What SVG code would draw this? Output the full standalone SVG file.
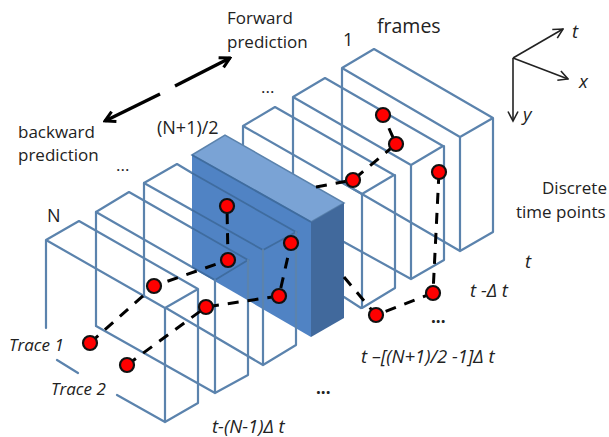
<svg xmlns="http://www.w3.org/2000/svg" width="609" height="437" viewBox="0 0 609 437">
<style>
.w{fill:none;stroke:#5b83ad;stroke-width:2.2;stroke-linejoin:round;stroke-linecap:round}
.d{fill:none;stroke:#3f6c9f;stroke-width:1.8}
.tr{fill:none;stroke:#000;stroke-width:3;stroke-dasharray:11 9}
.c{fill:#f00;stroke:#111;stroke-width:2.2}
text{font-family:"Open Sans","Liberation Sans",sans-serif;fill:#222;font-size:17px}
.i{font-style:italic;font-size:18.5px}
.tc{font-style:italic;font-size:17px}
.ar{fill:none;stroke:#000;stroke-width:3.4}
.ax{fill:none;stroke:#222;stroke-width:1.6}
</style>
<defs>
<marker id="h" viewBox="0 0 14 14" refX="12" refY="7" markerWidth="14" markerHeight="14" markerUnits="userSpaceOnUse" orient="auto"><path d="M2 1.5 L12 7 L2 12.5" fill="none" stroke="#000" stroke-width="3"/></marker>
<marker id="a" viewBox="0 0 12 12" refX="10.5" refY="6" markerWidth="12" markerHeight="12" markerUnits="userSpaceOnUse" orient="auto"><path d="M1 1 L10.5 6 L1 11" fill="none" stroke="#222" stroke-width="1.6"/></marker>
</defs>
<rect width="609" height="437" fill="#fff"/>

<g id="frame-1"><path class="w" d="M342 181V68L374 49L493 118L460 137L342 68M460 137V251L493 232V118M343 183L460 251"/></g>
<g id="frame-2"><path class="w" d="M293 174V97L325 78L443 146L411 165L293 97M411 165V279L444 260V146M344 242L411 279"/></g>
<g id="frame-3"><path class="w" d="M243 145V126L275 107L394 175L362 194L243 126M362 194V308L395 288V175M344 297L361 308"/></g>

<g id="frame-middle">
<path d="M192 155L225 135L344 203L311 222Z" fill="#7aa3d5" stroke="#5b83ad" stroke-width="1.5"/>
<path d="M192 155L311 222V337L192 268Z" fill="#5083c4"/>
<path d="M311 222L344 203V318L311 337Z" fill="#41699c"/>
<path class="d" d="M192 155L311 222"/>
</g>

<g id="frame-4"><path class="w" d="M144 297V183L177 164L192 173"/><path class="w" d="M144 183L192 210"/><path class="d" d="M192 210L263 250L296 232L192 173"/><path class="w" d="M263 250V365L296 345V232M166 308L263 365"/></g>
<g id="frame-5"><path class="w" d="M96 326V212L129 192L192 228"/><path class="w" d="M96 212L192 267"/><path class="d" d="M192 228L248 260L215 280L192 267"/><path class="w" d="M215 280V393L248 375V260M96 326L215 393"/></g>
<g id="frame-6"><path class="w" d="M46 328V240L79 221L198 289L165 308L46 240M165 308V422L198 403V289M57 360L78 373M117 395L165 422"/></g>

<g id="connectors">
<path class="tr" d="M90 343L154 286L228 260L227 206"/>
<path class="tr" d="M127 365L206 307L279 296L291 243"/>
<path class="tr" d="M344 277L376 315L433 293L439 172"/>
<path class="tr" d="M316 187L353 180L396 144L383 115"/>
<path class="ar" marker-end="url(#h)" d="M175 86L230 58"/>
<path class="ar" marker-end="url(#h)" d="M160 94L105 121"/>
<path class="ax" marker-end="url(#a)" d="M513 58L563 29"/>
<path class="ax" marker-end="url(#a)" d="M513 58L568 79"/>
<path class="ax" marker-end="url(#a)" d="M513 58V121"/>
</g>

<g id="points">
<circle class="c" cx="383" cy="115" r="7"/><circle class="c" cx="396" cy="144" r="7"/>
<circle class="c" cx="439" cy="172" r="7"/><circle class="c" cx="353" cy="180" r="7"/>
<circle class="c" cx="433" cy="293" r="7"/><circle class="c" cx="376" cy="315" r="7"/>
<circle class="c" cx="227" cy="206" r="7"/><circle class="c" cx="228" cy="260" r="7"/>
<circle class="c" cx="291" cy="243" r="7"/><circle class="c" cx="279" cy="296" r="7"/>
<circle class="c" cx="206" cy="307" r="7"/><circle class="c" cx="154" cy="286" r="7"/>
<circle class="c" cx="90" cy="343" r="7"/><circle class="c" cx="127" cy="365" r="7"/>
</g>

<g id="labels">
<text x="227" y="24">Forward</text><text x="227" y="48">prediction</text>
<text x="18" y="138">backward</text><text x="18" y="161">prediction</text>
<text x="157" y="134" style="font-size:18px">(N+1)/2</text>
<text x="343" y="46" style="font-size:18px">1</text>
<text x="377" y="33" style="font-size:19.5px">frames</text>
<text x="47" y="222" style="font-size:18px">N</text>
<text x="261" y="93">...</text><text x="116" y="171">...</text>
<text x="542" y="194">Discrete</text><text x="516" y="218">time points</text>
<text class="i" x="572" y="38">t</text><text class="i" x="579" y="88">x</text><text class="i" x="523" y="121">y</text>
<text class="i" x="525" y="268">t</text>
<text class="i" x="470" y="297">t -Δ t</text>
<text class="i" x="361" y="363">t –[(N+1)/2 -1]Δ t</text>
<text class="i" x="212" y="433">t-(N-1)Δ t</text>
<text class="tc" x="9" y="351">Trace 1</text>
<text class="tc" x="51" y="395">Trace 2</text>
<text x="431" y="323" style="font-weight:bold">...</text>
<text x="316" y="394" style="font-weight:bold">...</text>
</g>
</svg>
